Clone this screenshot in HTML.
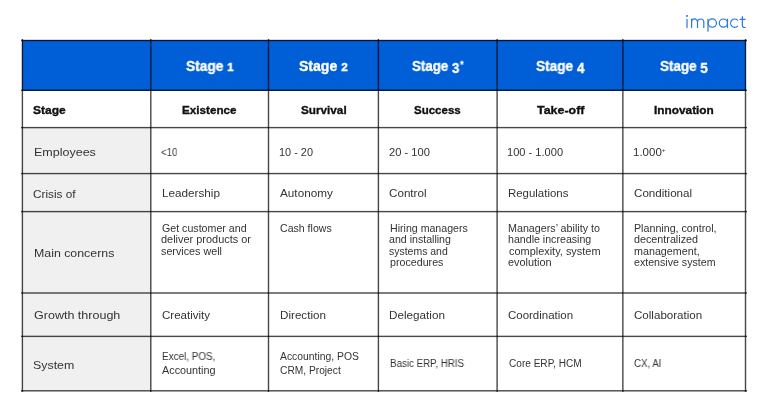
<!DOCTYPE html>
<html><head><meta charset="utf-8"><style>
html,body{margin:0;padding:0;background:#fff;width:768px;height:403px;overflow:hidden}
body{position:relative;font-family:"Liberation Sans",sans-serif}
div{position:absolute}
.t{white-space:nowrap;transform-origin:0 0;will-change:transform}
sup{font-size:55%;vertical-align:0;position:relative;top:-0.75em}
.d1{font-size:84%}
.d3{position:relative;top:2px}
.ast{font-size:62%;position:relative;top:-0.5em;margin-left:1px}
</style></head><body>
<div style="left:22px;top:40px;width:724px;height:51px;background:#005ed6"></div>
<div style="left:22px;top:127px;width:129px;height:264px;background:#f0f0f0"></div>
<div style="left:21px;top:39px;width:1px;height:353px;background:rgba(0,0,0,0.216)"></div>
<div style="left:22px;top:39px;width:1px;height:353px;background:rgba(0,0,0,0.720)"></div>
<div style="left:23px;top:39px;width:1px;height:353px;background:rgba(0,0,0,0.072)"></div>
<div style="left:150px;top:39px;width:1px;height:353px;background:rgba(0,0,0,0.648)"></div>
<div style="left:151px;top:39px;width:1px;height:353px;background:rgba(0,0,0,0.360)"></div>
<div style="left:267px;top:39px;width:1px;height:353px;background:rgba(0,0,0,0.144)"></div>
<div style="left:268px;top:39px;width:1px;height:353px;background:rgba(0,0,0,0.720)"></div>
<div style="left:269px;top:39px;width:1px;height:353px;background:rgba(0,0,0,0.144)"></div>
<div style="left:377px;top:39px;width:1px;height:353px;background:rgba(0,0,0,0.216)"></div>
<div style="left:378px;top:39px;width:1px;height:353px;background:rgba(0,0,0,0.720)"></div>
<div style="left:379px;top:39px;width:1px;height:353px;background:rgba(0,0,0,0.072)"></div>
<div style="left:496px;top:39px;width:1px;height:353px;background:rgba(0,0,0,0.432)"></div>
<div style="left:497px;top:39px;width:1px;height:353px;background:rgba(0,0,0,0.576)"></div>
<div style="left:622px;top:39px;width:1px;height:353px;background:rgba(0,0,0,0.605)"></div>
<div style="left:623px;top:39px;width:1px;height:353px;background:rgba(0,0,0,0.403)"></div>
<div style="left:744px;top:39px;width:1px;height:353px;background:rgba(0,0,0,0.144)"></div>
<div style="left:745px;top:39px;width:1px;height:353px;background:rgba(0,0,0,0.720)"></div>
<div style="left:746px;top:39px;width:1px;height:353px;background:rgba(0,0,0,0.144)"></div>
<div style="left:21px;top:39px;width:726px;height:1px;background:rgba(0,0,0,0.144)"></div>
<div style="left:21px;top:40px;width:726px;height:1px;background:rgba(0,0,0,0.720)"></div>
<div style="left:21px;top:41px;width:726px;height:1px;background:rgba(0,0,0,0.144)"></div>
<div style="left:21px;top:89px;width:726px;height:1px;background:rgba(0,0,0,0.288)"></div>
<div style="left:21px;top:90px;width:726px;height:1px;background:rgba(0,0,0,0.720)"></div>
<div style="left:21px;top:126px;width:726px;height:1px;background:rgba(0,0,0,0.072)"></div>
<div style="left:21px;top:127px;width:726px;height:1px;background:rgba(0,0,0,0.720)"></div>
<div style="left:21px;top:128px;width:726px;height:1px;background:rgba(0,0,0,0.216)"></div>
<div style="left:21px;top:172px;width:726px;height:1px;background:rgba(0,0,0,0.094)"></div>
<div style="left:21px;top:173px;width:726px;height:1px;background:rgba(0,0,0,0.720)"></div>
<div style="left:21px;top:174px;width:726px;height:1px;background:rgba(0,0,0,0.194)"></div>
<div style="left:21px;top:210px;width:726px;height:1px;background:rgba(0,0,0,0.072)"></div>
<div style="left:21px;top:211px;width:726px;height:1px;background:rgba(0,0,0,0.720)"></div>
<div style="left:21px;top:212px;width:726px;height:1px;background:rgba(0,0,0,0.216)"></div>
<div style="left:21px;top:292px;width:726px;height:1px;background:rgba(0,0,0,0.504)"></div>
<div style="left:21px;top:293px;width:726px;height:1px;background:rgba(0,0,0,0.504)"></div>
<div style="left:21px;top:335px;width:726px;height:1px;background:rgba(0,0,0,0.230)"></div>
<div style="left:21px;top:336px;width:726px;height:1px;background:rgba(0,0,0,0.720)"></div>
<div style="left:21px;top:337px;width:726px;height:1px;background:rgba(0,0,0,0.058)"></div>
<div style="left:21px;top:390px;width:726px;height:1px;background:rgba(0,0,0,0.648)"></div>
<div style="left:21px;top:391px;width:726px;height:1px;background:rgba(0,0,0,0.360)"></div>
<div class="t" style="left:186.04px;top:58.25px;font-size:14px;line-height:16.8px;color:#fff;font-weight:700;-webkit-text-stroke:0.35px #fff;transform:scaleX(0.9816);">Stage <span class=d1>1</span></div>
<div class="t" style="left:298.78px;top:58.25px;font-size:14px;line-height:16.8px;color:#fff;font-weight:700;-webkit-text-stroke:0.35px #fff;transform:scaleX(1.0038);">Stage <span class=d1>2</span></div>
<div class="t" style="left:411.67px;top:58.25px;font-size:14px;line-height:16.8px;color:#fff;font-weight:700;-webkit-text-stroke:0.35px #fff;transform:scaleX(0.9512);">Stage <span class=d3>3</span><span class=ast>*</span></div>
<div class="t" style="left:535.55px;top:58.25px;font-size:14px;line-height:16.8px;color:#fff;font-weight:700;-webkit-text-stroke:0.35px #fff;transform:scaleX(0.9742);">Stage <span class=d3>4</span></div>
<div class="t" style="left:660.32px;top:58.25px;font-size:14px;line-height:16.8px;color:#fff;font-weight:700;-webkit-text-stroke:0.35px #fff;transform:scaleX(0.9601);">Stage <span class=d3>5</span></div>
<div class="t" style="left:33.41px;top:103.61px;font-size:11.5px;line-height:13.8px;color:#111;font-weight:700;-webkit-text-stroke:0.35px #111;transform:scaleX(1.0472);">Stage</div>
<div class="t" style="left:182.48px;top:104.19px;font-size:11.5px;line-height:13.8px;color:#111;font-weight:700;-webkit-text-stroke:0.35px #111;transform:scaleX(1.0148);">Existence</div>
<div class="t" style="left:300.85px;top:104.12px;font-size:11.5px;line-height:13.8px;color:#111;font-weight:700;-webkit-text-stroke:0.35px #111;transform:scaleX(1.0198);">Survival</div>
<div class="t" style="left:414.46px;top:104.12px;font-size:11.5px;line-height:13.8px;color:#111;font-weight:700;-webkit-text-stroke:0.35px #111;">Success</div>
<div class="t" style="left:536.55px;top:103.74px;font-size:11.5px;line-height:13.8px;color:#111;font-weight:700;-webkit-text-stroke:0.35px #111;transform:scaleX(1.0809);">Take-off</div>
<div class="t" style="left:654.26px;top:104.33px;font-size:11.5px;line-height:13.8px;color:#111;font-weight:700;-webkit-text-stroke:0.35px #111;transform:scaleX(1.0291);">Innovation</div>
<div class="t" style="left:33.70px;top:145.72px;font-size:11.5px;line-height:13.8px;color:#333;transform:scaleX(1.0876);">Employees</div>
<div class="t" style="left:33.09px;top:187.60px;font-size:11.5px;line-height:13.8px;color:#333;transform:scaleX(1.0252);">Crisis of</div>
<div class="t" style="left:33.70px;top:246.87px;font-size:11.5px;line-height:13.8px;color:#333;transform:scaleX(1.0738);">Main concerns</div>
<div class="t" style="left:33.61px;top:309.45px;font-size:11.5px;line-height:13.8px;color:#333;transform:scaleX(1.0890);">Growth through</div>
<div class="t" style="left:32.51px;top:358.68px;font-size:11.5px;line-height:13.8px;color:#333;transform:scaleX(1.0766);">System</div>
<div class="t" style="left:161.24px;top:145.67px;font-size:10.5px;line-height:12.6px;color:#333;transform:scaleX(0.9142);">&lt;10</div>
<div class="t" style="left:278.98px;top:145.61px;font-size:10.5px;line-height:12.6px;color:#333;transform:scaleX(1.0405);">10 - 20</div>
<div class="t" style="left:388.62px;top:145.61px;font-size:10.5px;line-height:12.6px;color:#333;transform:scaleX(1.0629);">20 - 100</div>
<div class="t" style="left:507.47px;top:145.61px;font-size:10.5px;line-height:12.6px;color:#333;transform:scaleX(1.0555);">100 - 1.000</div>
<div class="t" style="left:633.04px;top:145.61px;font-size:10.5px;line-height:12.6px;color:#333;transform:scaleX(1.0958);">1.000<sup>+</sup></div>
<div class="t" style="left:161.57px;top:186.98px;font-size:11px;line-height:13.2px;color:#333;transform:scaleX(1.0649);">Leadership</div>
<div class="t" style="left:279.84px;top:186.97px;font-size:11px;line-height:13.2px;color:#333;transform:scaleX(1.0684);">Autonomy</div>
<div class="t" style="left:389.11px;top:186.52px;font-size:11px;line-height:13.2px;color:#333;transform:scaleX(1.0584);">Control</div>
<div class="t" style="left:508.02px;top:186.96px;font-size:11px;line-height:13.2px;color:#333;transform:scaleX(1.0392);">Regulations</div>
<div class="t" style="left:633.64px;top:187.26px;font-size:11px;line-height:13.2px;color:#333;transform:scaleX(1.0554);">Conditional</div>
<div class="t" style="left:161.72px;top:222.52px;font-size:10.2px;line-height:12.24px;color:#333;transform:scaleX(1.0444);">Get customer and</div>
<div class="t" style="left:161.41px;top:234.15px;font-size:10.2px;line-height:12.24px;color:#333;transform:scaleX(1.0739);">deliver products or</div>
<div class="t" style="left:161.46px;top:245.74px;font-size:10.2px;line-height:12.24px;color:#333;transform:scaleX(1.0557);">services well</div>
<div class="t" style="left:279.51px;top:223.01px;font-size:10.2px;line-height:12.24px;color:#333;transform:scaleX(1.0370);">Cash flows</div>
<div class="t" style="left:389.56px;top:222.67px;font-size:10.2px;line-height:12.24px;color:#333;transform:scaleX(1.0406);">Hiring managers</div>
<div class="t" style="left:389.25px;top:233.90px;font-size:10.2px;line-height:12.24px;color:#333;transform:scaleX(1.0407);">and installing</div>
<div class="t" style="left:389.39px;top:245.65px;font-size:10.2px;line-height:12.24px;color:#333;transform:scaleX(1.0277);">systems and</div>
<div class="t" style="left:389.70px;top:256.53px;font-size:10.2px;line-height:12.24px;color:#333;transform:scaleX(1.0486);">procedures</div>
<div class="t" style="left:507.70px;top:223.18px;font-size:10.2px;line-height:12.24px;color:#333;transform:scaleX(1.0519);">Managers&rsquo; ability to</div>
<div class="t" style="left:508.17px;top:234.10px;font-size:10.2px;line-height:12.24px;color:#333;transform:scaleX(1.0428);">handle increasing</div>
<div class="t" style="left:508.51px;top:245.65px;font-size:10.2px;line-height:12.24px;color:#333;transform:scaleX(1.0726);">complexity, system</div>
<div class="t" style="left:508.11px;top:256.84px;font-size:10.2px;line-height:12.24px;color:#333;transform:scaleX(1.0701);">evolution</div>
<div class="t" style="left:633.68px;top:222.60px;font-size:10.2px;line-height:12.24px;color:#333;transform:scaleX(1.0485);">Planning, control,</div>
<div class="t" style="left:633.73px;top:234.09px;font-size:10.2px;line-height:12.24px;color:#333;transform:scaleX(1.0558);">decentralized</div>
<div class="t" style="left:633.78px;top:245.74px;font-size:10.2px;line-height:12.24px;color:#333;transform:scaleX(1.0536);">management,</div>
<div class="t" style="left:633.79px;top:257.12px;font-size:10.2px;line-height:12.24px;color:#333;transform:scaleX(1.0433);">extensive system</div>
<div class="t" style="left:161.55px;top:308.55px;font-size:11px;line-height:13.2px;color:#333;transform:scaleX(1.0475);">Creativity</div>
<div class="t" style="left:279.60px;top:308.54px;font-size:11px;line-height:13.2px;color:#333;transform:scaleX(1.0593);">Direction</div>
<div class="t" style="left:389.28px;top:308.50px;font-size:11px;line-height:13.2px;color:#333;transform:scaleX(1.0624);">Delegation</div>
<div class="t" style="left:508.05px;top:308.57px;font-size:11px;line-height:13.2px;color:#333;transform:scaleX(1.0428);">Coordination</div>
<div class="t" style="left:633.82px;top:308.53px;font-size:11px;line-height:13.2px;color:#333;transform:scaleX(1.0522);">Collaboration</div>
<div class="t" style="left:161.63px;top:351.11px;font-size:10px;line-height:12.0px;color:#333;transform:scaleX(0.9883);">Excel, POS,</div>
<div class="t" style="left:161.87px;top:364.76px;font-size:10px;line-height:12.0px;color:#333;transform:scaleX(1.0819);">Accounting</div>
<div class="t" style="left:279.68px;top:351.08px;font-size:10px;line-height:12.0px;color:#333;transform:scaleX(1.0370);">Accounting, POS</div>
<div class="t" style="left:279.55px;top:365.00px;font-size:10px;line-height:12.0px;color:#333;transform:scaleX(1.0213);">CRM, Project</div>
<div class="t" style="left:389.94px;top:357.66px;font-size:10px;line-height:12.0px;color:#333;transform:scaleX(0.9758);">Basic ERP, HRIS</div>
<div class="t" style="left:508.50px;top:358.15px;font-size:10px;line-height:12.0px;color:#333;transform:scaleX(1.0078);">Core ERP, HCM</div>
<div class="t" style="left:634.04px;top:357.60px;font-size:10px;line-height:12.0px;color:#333;transform:scaleX(0.9664);">CX, AI</div>
<svg style="position:absolute;left:0;top:0" width="768" height="40" viewBox="0 0 768 40"><g fill="none" stroke="#2a78e0" stroke-width="1.2" stroke-linecap="round"><path d="M687 19.3V27.6M691.6 27.6V19.2M691.6 22.2A2.9 3.2 0 0 1 697.5 22.2V27.6M697.5 22.2A3.15 3.2 0 0 1 703.8 22.2V27.6M708 19.2V31.2"/><circle cx="712.3" cy="23.1" r="4.15"/><circle cx="723.4" cy="23.1" r="4.1"/><path d="M727.5 19.1V27.6M737.6 20.2A4.1 4.2 0 1 0 737.6 26.2M742.35 16.5V25.3Q742.35 27.5 744.5 27.5H745.4M740.1 19.4H745.1"/></g><rect x="686.1" y="15.1" width="1.8" height="1.7" fill="#2a78e0"/></svg>

</body></html>
